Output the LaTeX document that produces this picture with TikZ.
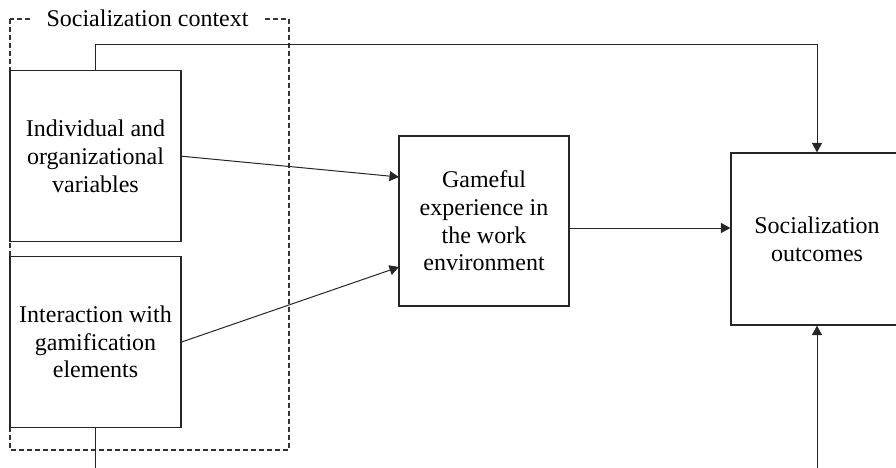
\documentclass[tikz,border=0pt]{standalone}
\usepackage{fontspec}
\setmainfont{Liberation Serif}
\usetikzlibrary{arrows.meta}
\begin{document}
\begin{tikzpicture}[x=1pt,y={(0pt,-1pt)},
  box/.style={draw=black!85, line width=1.2pt, minimum width=171pt, minimum height=171pt,
    inner sep=0pt, align=center, font=\fontsize{24}{27.6}\selectfont},
  conn/.style={draw=black!85, line width=1pt},
  arr/.style={conn, -{Triangle[length=9.5pt,width=10pt]}},
  ctxframe/.style={draw=black!80, line width=1.3pt, dash pattern=on 5pt off 3pt}]
\useasboundingbox (0,0) rectangle (896,467);

% dashed frame of the socialization context
\draw[ctxframe] (10,19) rectangle (289,450);
\node[fill=white, inner xsep=14pt, inner ysep=0pt, font=\fontsize{24}{27.6}\selectfont]
  (ctx) at (147.5,18.5) {Socialization context};

% boxes
\node[box] (ind) at (95.5,156.2) {Individual and\\organizational\\variables};
\node[box] (inter) at (95.5,342) {Interaction with\\gamification\\elements};
\node[box, minimum width=170pt, minimum height=170pt] (game) at (484,221)
  {Gameful\\experience in\\the work\\environment};
\node[box, minimum width=172pt, minimum height=172pt] (out) at (817,239)
  {Socialization\\outcomes};

% connectors
\coordinate (gin1) at (399,177);
\coordinate (gin2) at (399,267);
\draw[arr] (ind.east) -- (gin1);
\draw[arr] (inter.east) -- (gin2);
\draw[arr] (game.east |- 0,228) -- (out.west |- 0,228);

\coordinate (topbend) at (817,44);
\draw[arr] (ind.north) |- (topbend) -- (out.north);

\coordinate (botleft) at (95.5,468);
\coordinate (botright) at (817,468);
\draw[conn] (inter.south) -- (botleft);
\draw[arr] (botright) -- (out.south);
\end{tikzpicture}
\end{document}
